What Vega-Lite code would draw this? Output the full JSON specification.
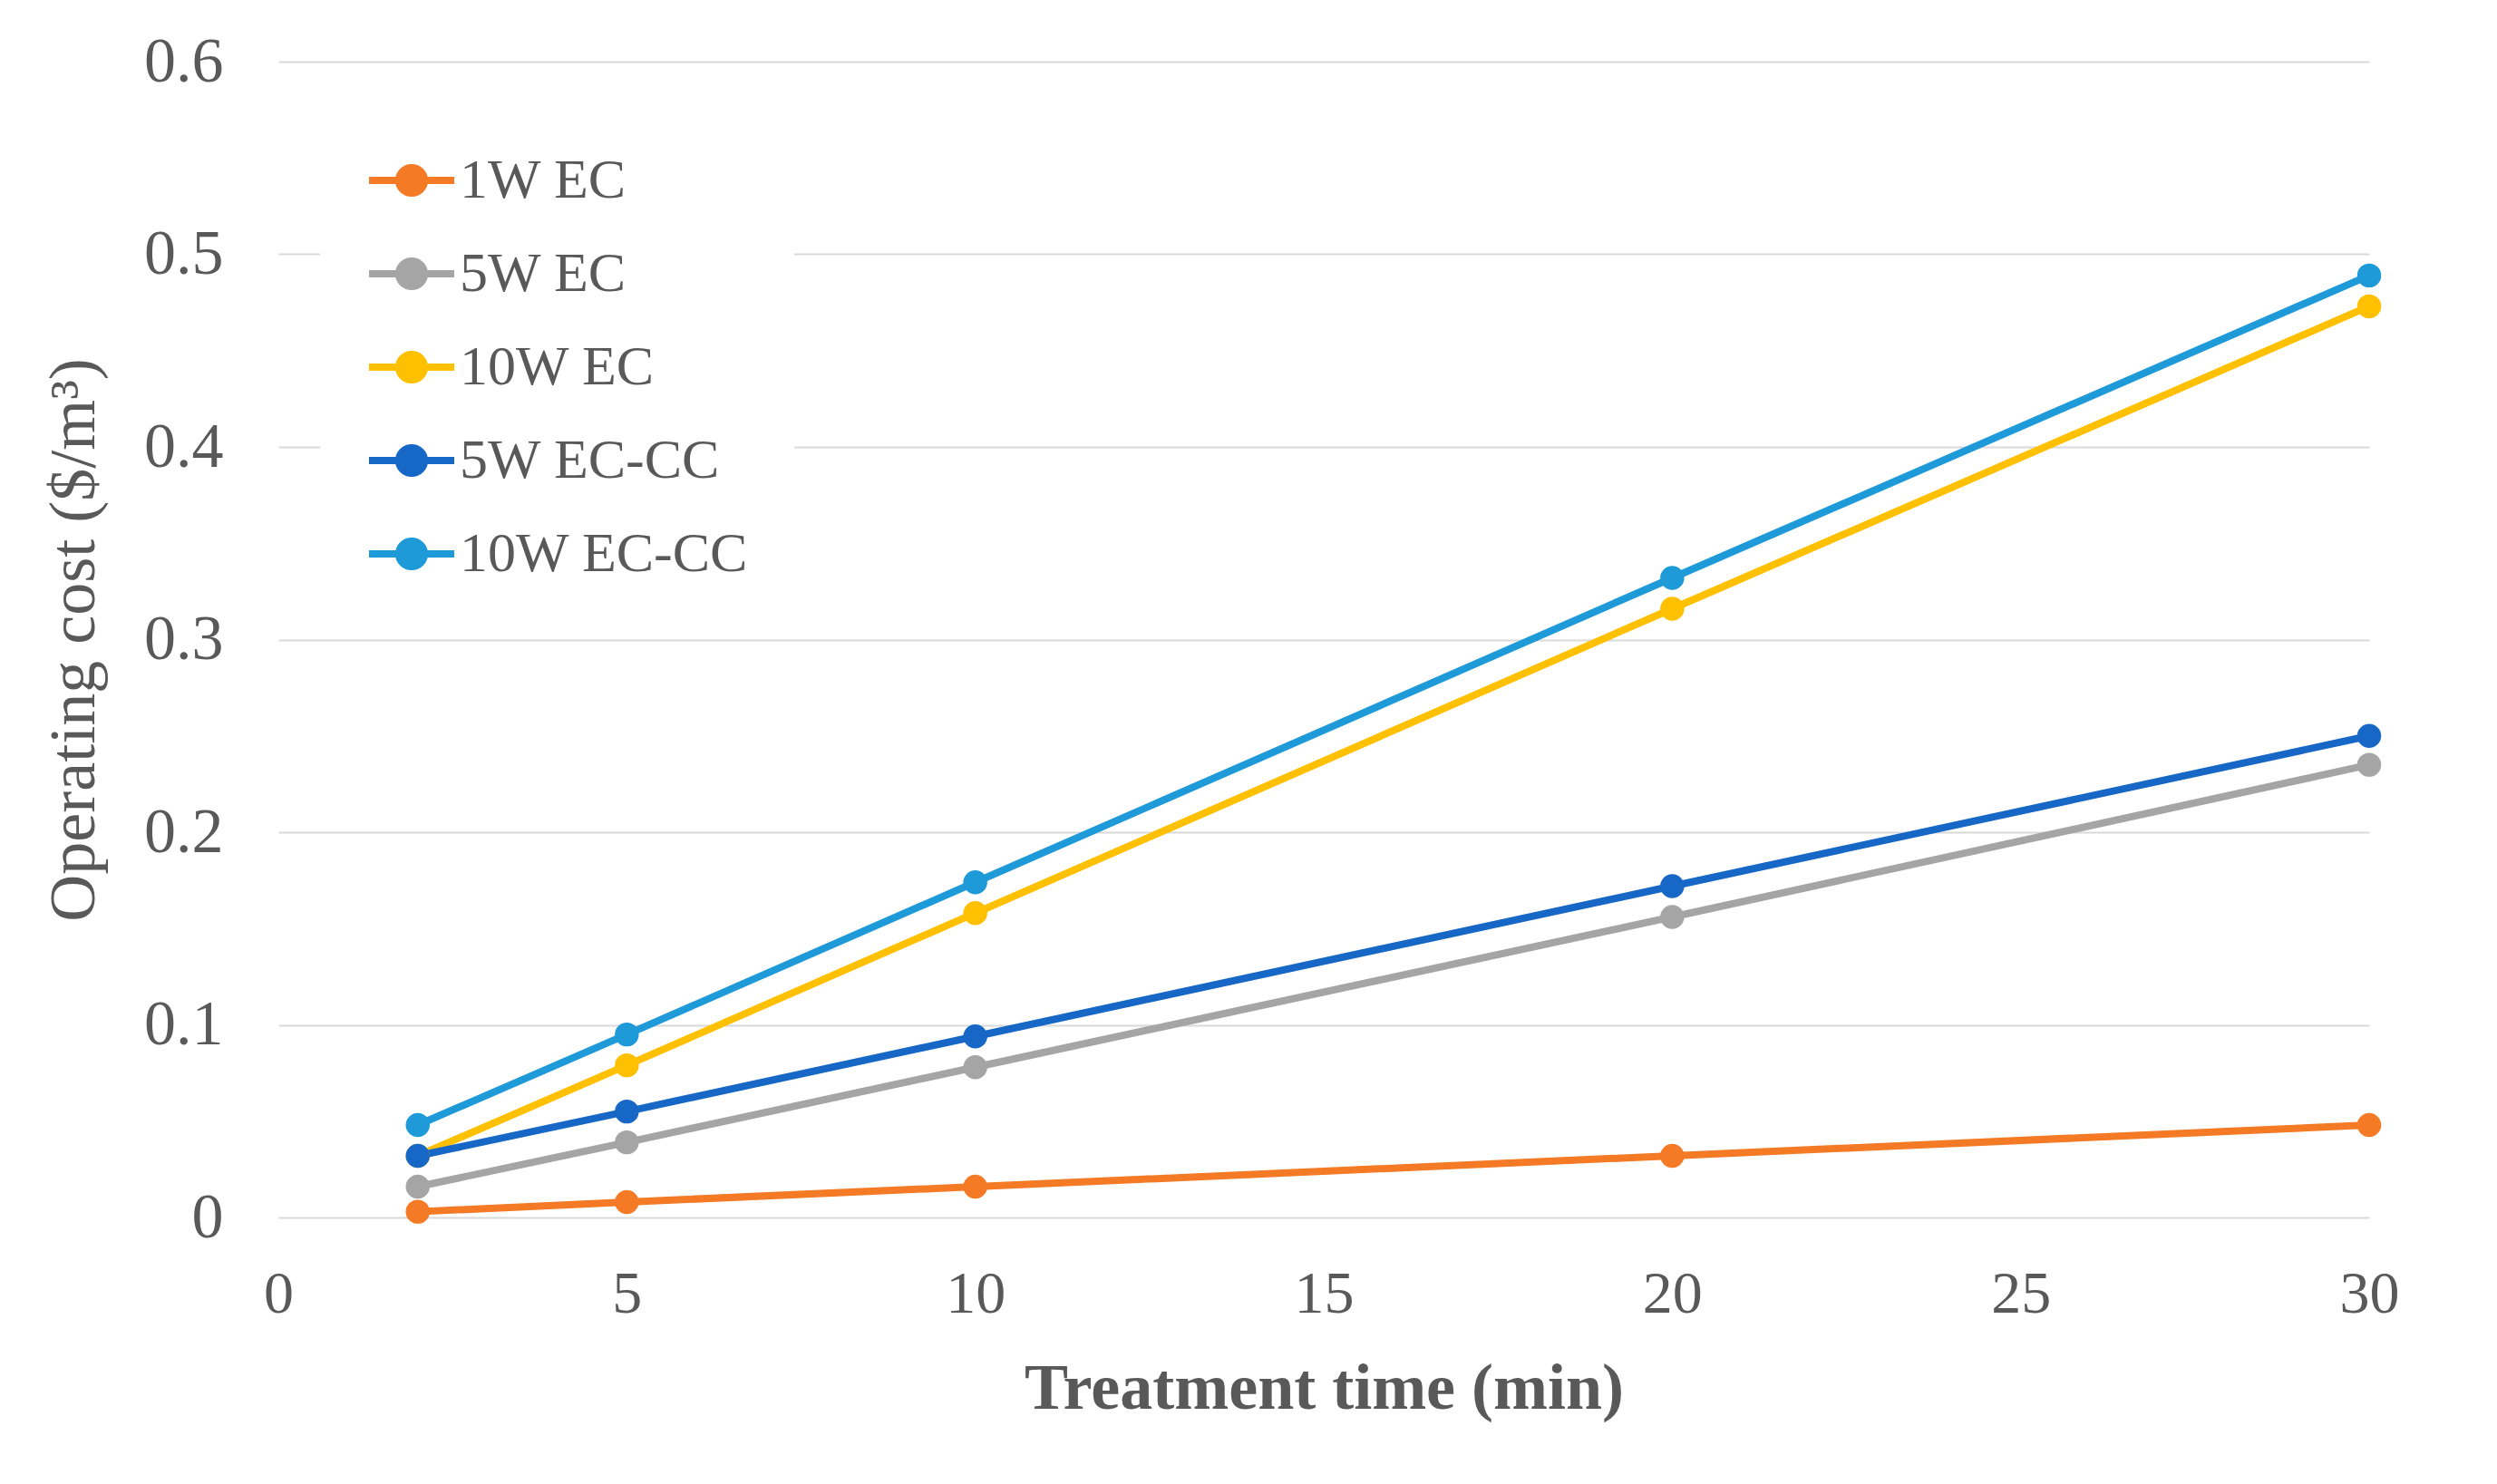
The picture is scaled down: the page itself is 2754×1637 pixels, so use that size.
{
 "$schema": "https://vega.github.io/schema/vega-lite/v6.json",
 "width": 2306,
 "height": 1275,
 "autosize": {"type": "none"},
 "padding": {"left": 307, "top": 68, "right": 141, "bottom": 294},
 "background": "white",
 "config": {"view": {"stroke": null}, "font": "Liberation Serif"},
 "data": {"values": [
  {"time": 2, "cost": 0.003, "series": "1W EC"},
  {"time": 5, "cost": 0.008, "series": "1W EC"},
  {"time": 10, "cost": 0.016, "series": "1W EC"},
  {"time": 20, "cost": 0.032, "series": "1W EC"},
  {"time": 30, "cost": 0.048, "series": "1W EC"},
  {"time": 2, "cost": 0.016, "series": "5W EC"},
  {"time": 5, "cost": 0.039, "series": "5W EC"},
  {"time": 10, "cost": 0.078, "series": "5W EC"},
  {"time": 20, "cost": 0.156, "series": "5W EC"},
  {"time": 30, "cost": 0.235, "series": "5W EC"},
  {"time": 2, "cost": 0.032, "series": "10W EC"},
  {"time": 5, "cost": 0.079, "series": "10W EC"},
  {"time": 10, "cost": 0.158, "series": "10W EC"},
  {"time": 20, "cost": 0.316, "series": "10W EC"},
  {"time": 30, "cost": 0.473, "series": "10W EC"},
  {"time": 2, "cost": 0.032, "series": "5W EC-CC"},
  {"time": 5, "cost": 0.055, "series": "5W EC-CC"},
  {"time": 10, "cost": 0.094, "series": "5W EC-CC"},
  {"time": 20, "cost": 0.172, "series": "5W EC-CC"},
  {"time": 30, "cost": 0.250, "series": "5W EC-CC"},
  {"time": 2, "cost": 0.048, "series": "10W EC-CC"},
  {"time": 5, "cost": 0.095, "series": "10W EC-CC"},
  {"time": 10, "cost": 0.174, "series": "10W EC-CC"},
  {"time": 20, "cost": 0.332, "series": "10W EC-CC"},
  {"time": 30, "cost": 0.489, "series": "10W EC-CC"}
 ]},
 "encoding": {
  "x": {"field": "time", "type": "quantitative",
   "scale": {"domain": [0, 30], "nice": false},
   "axis": {"values": [0, 5, 10, 15, 20, 25, 30], "title": "Treatment time (min)", "grid": false, "domain": false, "ticks": false, "labelFlush": false,
    "labelFontSize": 66, "labelColor": "#595959", "labelPadding": 52, "labelFont": "Liberation Serif",
    "titleFontSize": 72, "titleFontWeight": "bold", "titleColor": "#595959", "titlePadding": 36, "titleFont": "Liberation Serif"}},
  "y": {"field": "cost", "type": "quantitative",
   "scale": {"domain": [0, 0.6], "nice": false},
   "axis": {"values": [0, 0.1, 0.2, 0.3, 0.4, 0.5, 0.6], "format": "~g", "title": "Operating cost ($/m³)", "domain": false, "ticks": false, "labelFlush": false,
    "grid": true, "gridColor": "#D9D9D9", "gridWidth": 2,
    "labelFontSize": 70, "labelColor": "#595959", "labelPadding": 61, "labelFont": "Liberation Serif",
    "titleFontSize": 72, "titleFontWeight": "normal", "titleColor": "#595959", "titlePadding": 40, "titleFont": "Liberation Serif"}},
  "color": {"field": "series", "type": "nominal",
   "scale": {"domain": ["1W EC", "5W EC", "10W EC", "5W EC-CC", "10W EC-CC"], "range": ["#F47A25", "#A5A5A5", "#FFC000", "#1767C6", "#1E9AD8"]},
   "legend": {"title": null, "orient": "none", "legendX": 46, "legendY": 30, "padding": 50, "fillColor": "white",
    "symbolType": "M-1,0L1,0M-0.3,0A0.3,0.3,0,1,1,0.3,0A0.3,0.3,0,1,1,-0.3,0Z", "symbolSize": 8836, "symbolStrokeWidth": 8,
    "labelFontSize": 62, "labelColor": "#595959", "labelOffset": 2, "rowPadding": 21, "labelLimit": 0, "labelFont": "Liberation Serif"}}
 },
 "layer": [
  {"mark": {"type": "line", "strokeWidth": 8}},
  {"mark": {"type": "point", "filled": true, "size": 700, "opacity": 1}}
 ]
}
